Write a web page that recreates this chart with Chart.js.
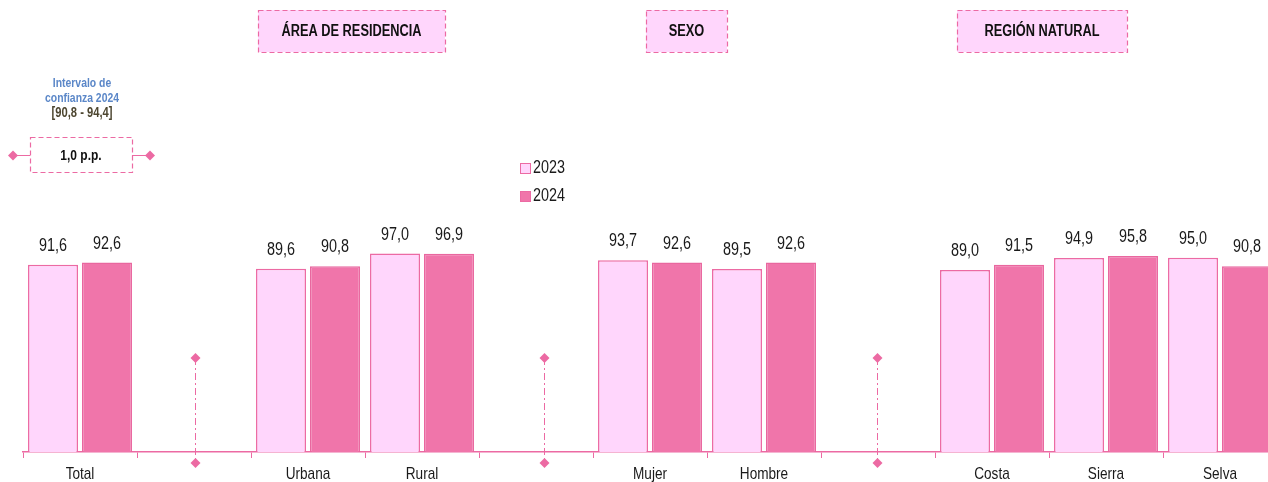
<!DOCTYPE html>
<html>
<head>
<meta charset="utf-8">
<script src="https://cdn.jsdelivr.net/npm/chart.js@4.4.1/dist/chart.umd.min.js"></script>
<style>
  html, body { margin: 0; padding: 0; background: #fff; overflow: hidden; }
  #wrap { width: 1290px; height: 482px; }
</style>
</head>
<body>
<div id="wrap"><canvas id="chart" width="1290" height="482"></canvas></div>
<script>
// data
var categories = ['Total', '', 'Urbana', 'Rural', '', 'Mujer', 'Hombre', '', 'Costa', 'Sierra', 'Selva'];
var values2023 = [91.6, null, 89.6, 97.0, null, 93.7, 89.5, null, 89.0, 94.9, 95.0];
var values2024 = [92.6, null, 90.8, 96.9, null, 92.6, 92.6, null, 91.5, 95.8, 90.8];
var seriesLabels = ['2023', '2024'];
var groupTitles = ['ÁREA DE RESIDENCIA', 'SEXO', 'REGIÓN NATURAL'];
var separatorIndex = [1, 4, 7];
var intervalTitle = ['Intervalo de', 'confianza 2024'];
var intervalRange = '[90,8 - 94,4]';
var intervalGap = '1,0 p.p.';

var FONT = '"Liberation Sans", Arial, sans-serif';
var SQUEEZE = 0.8;   // fake Arial Narrow
var PINK = '#ec6aa3';
var LIGHT = '#ffd6fc';
var DARK = '#f075aa';

function fmt(v) {
  return v.toFixed(1).replace('.', ',');
}

// draw condensed text centred (or left) at x,y
function narrow(ctx, text, x, y, font, color, align) {
  ctx.save();
  ctx.font = font;
  ctx.fillStyle = color;
  ctx.textAlign = align || 'center';
  ctx.textBaseline = 'middle';
  ctx.translate(x, y);
  ctx.scale(SQUEEZE, 1);
  ctx.fillText(text, 0, 0);
  ctx.restore();
}

function diamond(ctx, x, y, r) {
  ctx.beginPath();
  ctx.moveTo(x, y - r);
  ctx.lineTo(x + r, y);
  ctx.lineTo(x, y + r);
  ctx.lineTo(x - r, y);
  ctx.closePath();
  ctx.fill();
}

function dashedBox(ctx, x, y, w, h, fill) {
  ctx.save();
  ctx.fillStyle = fill;
  ctx.fillRect(x, y, w, h);
  ctx.strokeStyle = PINK;
  ctx.lineWidth = 1.2;
  ctx.setLineDash([5, 3]);
  ctx.strokeRect(x + 0.5, y + 0.5, w, h);
  ctx.restore();
}

// header boxes (x, y, w, h)
var headerBoxes = [
  [258, 10, 187, 42],
  [646, 10, 81, 42],
  [957, 10, 170, 42]
];
var separatorShift = [1, 8, -1];

var extras = {
  id: 'extras',
  afterDatasetsDraw: function(chart) {
    var ctx = chart.ctx;
    var xs = chart.scales.x;

    // value labels
    chart.data.datasets.forEach(function(ds, i) {
      chart.getDatasetMeta(i).data.forEach(function(bar, j) {
        if (ds.data[j] == null) return;
        narrow(ctx, fmt(ds.data[j]), bar.x, bar.y - 19, '18px ' + FONT, '#1a1a1a');
      });
    });

    // category labels
    categories.forEach(function(c, j) {
      if (!c) return;
      narrow(ctx, c, xs.getPixelForValue(j), 474, '17px ' + FONT, '#1a1a1a');
    });

    // separators
    ctx.save();
    ctx.strokeStyle = PINK;
    ctx.fillStyle = PINK;
    ctx.lineWidth = 1;
    separatorIndex.forEach(function(idx, k) {
      var x = Math.round(xs.getPixelForValue(idx)) + separatorShift[k] + 0.5;
      ctx.setLineDash([7, 3, 2, 3]);
      ctx.beginPath();
      ctx.moveTo(x, 358);
      ctx.lineTo(x, 463);
      ctx.stroke();
      ctx.setLineDash([]);
      diamond(ctx, x, 358, 5);
      diamond(ctx, x, 463, 5);
    });
    ctx.restore();

    // group titles
    headerBoxes.forEach(function(b, i) {
      dashedBox(ctx, b[0], b[1], b[2], b[3], LIGHT);
      narrow(ctx, groupTitles[i], b[0] + b[2] / 2, b[1] + b[3] / 2 + 1, 'bold 16px ' + FONT, '#111');
    });

    // legend
    ctx.save();
    [LIGHT, DARK].forEach(function(c, i) {
      var y = 163 + i * 28;
      ctx.fillStyle = c;
      ctx.fillRect(520, y, 10, 10);
      ctx.strokeStyle = PINK;
      ctx.lineWidth = 1;
      ctx.strokeRect(520.5, y + 0.5, 10, 10);
      narrow(ctx, seriesLabels[i], 533, y + 5, '18px ' + FONT, '#1a1a1a', 'left');
    });
    ctx.restore();

    // confidence interval note
    narrow(ctx, intervalTitle[0], 82, 83, 'bold 13px ' + FONT, '#5b87c8');
    narrow(ctx, intervalTitle[1], 82, 98, 'bold 13px ' + FONT, '#5b87c8');
    narrow(ctx, intervalRange, 82, 113, 'bold 14px ' + FONT, '#4d4630');
    ctx.save();
    ctx.strokeStyle = PINK;
    ctx.lineWidth = 1;
    ctx.beginPath();
    ctx.moveTo(13, 155.5); ctx.lineTo(30, 155.5);
    ctx.moveTo(132, 155.5); ctx.lineTo(150, 155.5);
    ctx.stroke();
    ctx.fillStyle = PINK;
    diamond(ctx, 13, 155.5, 5);
    diamond(ctx, 150, 155.5, 5);
    ctx.restore();
    dashedBox(ctx, 30, 137, 102, 35, '#fff');
    narrow(ctx, intervalGap, 81, 156, 'bold 15px ' + FONT, '#111');
  }
};

var ctx = document.getElementById('chart');
var chart = new Chart(ctx, {
  type: 'bar',
  data: {
    labels: categories,
    datasets: [{
      label: seriesLabels[0],
      data: values2023,
      backgroundColor: LIGHT,
      borderColor: PINK,
      borderWidth: 1.5
    }, {
      label: seriesLabels[1],
      data: values2024,
      backgroundColor: DARK,
      borderColor: '#e9679f',
      borderWidth: 1.5
    }]
  },
  options: {
    responsive: false,
    animation: false,
    categoryPercentage: 0.947,
    barPercentage: 0.926,
    layout: {
      padding: { left: 23, right: 13, top: 2, bottom: 0 }
    },
    plugins: {
      legend: { display: false },
      tooltip: { enabled: false }
    },
    scales: {
      x: {
        grid: {
          drawOnChartArea: false,
          drawTicks: true,
          tickLength: 6,
          color: PINK
        },
        border: { display: true, color: PINK, width: 1.5 },
        ticks: { display: false },
        afterFit: function(s) { s.height = 30; }
      },
      y: {
        display: false,
        min: 0,
        max: 220
      }
    }
  },
  plugins: [extras]
});
</script>
</body>
</html>
